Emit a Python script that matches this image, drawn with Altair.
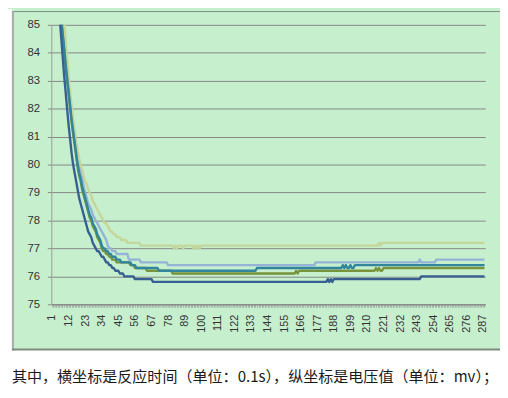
import altair as alt
import pandas as pd

N = 288
series = ["S1", "S2", "S3", "S4", "S5"]
colors = ["#95B3D7", "#C3D69B", "#77933C", "#31859C", "#376092"]
y_ticks = [75, 76, 77, 78, 79, 80, 81, 82, 83, 84, 85]
x_tick_labels = list(range(1, N + 1, 11))
caption = "其中，横坐标是反应时间（单位：0.1s），纵坐标是电压值（单位：mv）；"

# descent part (one value per category from 1) then flat runs (value, count)
lav_head = [93.0, 91.2, 89.6, 88.2, 87.0, 86.0, 85.4, 84.9, 84.4, 83.9,
            83.4, 82.9, 82.4, 81.9, 81.5, 81.1, 80.7, 80.4, 80.1, 79.8,
            79.5, 79.2, 79.0, 78.8, 78.6, 78.5, 78.4, 78.2, 78.1, 78.0,
            77.9, 77.8, 77.7, 77.6, 77.5, 77.4, 77.3, 77.1, 77.0, 77.0,
            76.9, 76.9, 76.9]
lav_runs = [(76.8, 8), (76.6, 8), (76.5, 18), (76.4, 98), (76.5, 69),
            (76.6, 1), (76.5, 10), (76.6, 33)]

olv_head = [95.0, 93.4, 91.9, 90.5, 89.1, 87.9, 86.8, 85.8, 85.2, 84.5,
            83.8, 83.2, 82.6, 82.1, 81.6, 81.2, 80.8, 80.5, 80.2, 80.0,
            79.8, 79.6, 79.4, 79.3, 79.1, 79.0, 78.9, 78.7, 78.6, 78.5,
            78.4, 78.3, 78.2, 78.1, 78.0, 77.9, 77.9, 77.8, 77.7, 77.6,
            77.6, 77.5, 77.5, 77.4, 77.4, 77.4, 77.3, 77.3, 77.3, 77.3]
olv_runs = [(77.2, 9), (77.1, 22), (77.0, 1), (77.1, 1), (77.0, 1), (77.1, 3),
            (77.0, 1), (77.1, 6), (77.0, 1), (77.1, 1), (77.0, 1), (77.1, 1),
            (77.0, 1), (77.1, 118), (77.2, 1), (77.1, 1), (77.2, 69)]

grn_head = [92.3, 90.6, 89.1, 87.8, 86.8, 85.9, 85.2, 84.6, 84.1, 83.5,
            83.0, 82.5, 82.0, 81.5, 81.1, 80.7, 80.3, 79.9, 79.6, 79.4,
            79.1, 78.9, 78.7, 78.5, 78.3, 78.1, 78.0, 77.8, 77.7, 77.6,
            77.4, 77.3, 77.2, 77.0, 76.9, 76.9, 76.8, 76.8, 76.7, 76.7,
            76.6, 76.6, 76.6, 76.5, 76.5, 76.5, 76.5]
grn_runs = [(76.5, 5), (76.4, 3), (76.3, 8), (76.2, 17), (76.1, 82),
            (76.2, 1), (76.1, 1), (76.2, 51), (76.3, 1), (76.2, 1),
            (76.3, 1), (76.2, 2), (76.3, 68)]

tea_head = [92.5, 90.8, 89.3, 88.0, 86.9, 86.0, 85.3, 84.7, 84.2, 83.6,
            83.1, 82.6, 82.1, 81.6, 81.2, 80.8, 80.4, 80.0, 79.7, 79.5,
            79.2, 79.0, 78.8, 78.6, 78.4, 78.2, 78.1, 77.9, 77.8, 77.7,
            77.5, 77.4, 77.3, 77.1, 77.0, 77.0, 76.9, 76.9, 76.8, 76.8,
            76.7, 76.7, 76.7, 76.6, 76.6, 76.6, 76.5]
tea_runs = [(76.5, 6), (76.4, 3), (76.3, 15), (76.2, 65), (76.3, 57),
            (76.4, 1), (76.3, 1), (76.4, 1), (76.3, 2), (76.4, 1),
            (76.3, 2), (76.4, 87)]

dkb_head = [91.0, 89.6, 88.3, 87.1, 86.1, 85.3, 84.6, 83.9, 83.2, 82.6,
            82.0, 81.4, 80.9, 80.4, 80.0, 79.7, 79.4, 79.1, 78.8, 78.6,
            78.4, 78.2, 78.0, 77.8, 77.6, 77.5, 77.4, 77.2, 77.1, 77.0,
            76.9, 76.9, 76.8, 76.7, 76.7, 76.6, 76.5, 76.5, 76.4, 76.4,
            76.3, 76.3, 76.2, 76.2, 76.2, 76.1, 76.1, 76.1]
dkb_runs = [(76.0, 7), (75.9, 12), (75.8, 116), (75.9, 1), (75.8, 1),
            (75.9, 1), (75.8, 1), (75.9, 58), (76.0, 43)]

heads = [lav_head, olv_head, grn_head, tea_head, dkb_head]
runs = [lav_runs, olv_runs, grn_runs, tea_runs, dkb_runs]

rows = []
for name, head, rl in zip(series, heads, runs):
    vals = list(head)
    for v, n in rl:
        vals.extend([v] * n)
    assert len(vals) == N, (name, len(vals))
    for i, v in enumerate(vals):
        rows.append({"s": name, "t": i + 1, "v": v})
df = pd.DataFrame(rows)

W, H = 441, 284
GRID = "#868686"
label_expr = "indexof(" + str(x_tick_labels) + ", datum.value) >= 0 ? datum.label : ''"

lines = alt.Chart(df).mark_line(clip=True, strokeWidth=2.4, strokeJoin="round").encode(
    x=alt.X("t:Q", scale=alt.Scale(domain=[0.5, N + 0.5], nice=False, zero=False),
            axis=alt.Axis(values=list(range(1, N + 1)), labelExpr=label_expr,
                          labelAngle=270, labelAlign="right", labelBaseline="middle",
                          labelOverlap=False, labelFlush=False, tickSize=3, tickWidth=0.6,
                          tickColor=GRID, domainColor=GRID, grid=False, title=None,
                          labelFontSize=11, labelColor="#333333", labelPadding=7,
                          labelFont="Liberation Sans")),
    y=alt.Y("v:Q", scale=alt.Scale(domain=[75, 85], nice=False, zero=False),
            axis=alt.Axis(values=y_ticks, grid=True, gridColor=GRID, gridWidth=1,
                          tickSize=4, tickColor=GRID, domainColor="#9a9a9a",
                          title=None, labelFontSize=11.5, labelColor="#333333",
                          labelPadding=8, labelFont="Liberation Sans")),
    color=alt.Color("s:N", scale=alt.Scale(domain=series, range=colors), legend=None),
    order=alt.Order("t:Q"),
)

one = alt.Data(values=[{"k": 0}])
white_left = alt.Chart(one).mark_rect(color="white").encode(
    x=alt.value(-46), x2=alt.value(-40), y=alt.value(-16), y2=alt.value(H + 90))
white_bottom = alt.Chart(one).mark_rect(color="white").encode(
    x=alt.value(-46), x2=alt.value(W + 20), y=alt.value(H + 46), y2=alt.value(H + 90))
top_border = alt.Chart(one).mark_rule(color="#7f8f7f", strokeWidth=1).encode(
    x=alt.value(-40), x2=alt.value(W + 20), y=alt.value(-13.5))
left_border = alt.Chart(one).mark_rule(color="#a8aca8", strokeWidth=2).encode(
    x=alt.value(-39), y=alt.value(-14), y2=alt.value(H + 47))
bottom_border = alt.Chart(one).mark_rule(color="#7f8a7f", strokeWidth=2).encode(
    x=alt.value(-40), x2=alt.value(W + 20), y=alt.value(H + 46))
cap = alt.Chart(one).mark_text(text=caption, align="left", baseline="middle",
                               fontSize=15.3, font="Noto Sans CJK SC",
                               color="#1a1a1a").encode(
    x=alt.value(-40), y=alt.value(H + 74))

chart = alt.layer(lines, white_left, white_bottom, top_border, left_border,
                  bottom_border, cap).properties(
    width=W, height=H,
    padding={"left": 44, "top": 14, "right": 15, "bottom": 84},
    autosize="none",
).configure(background="#C6EFCE").configure_view(stroke=None)

chart.save("out.html", embed_options={"renderer": "svg", "actions": False})
